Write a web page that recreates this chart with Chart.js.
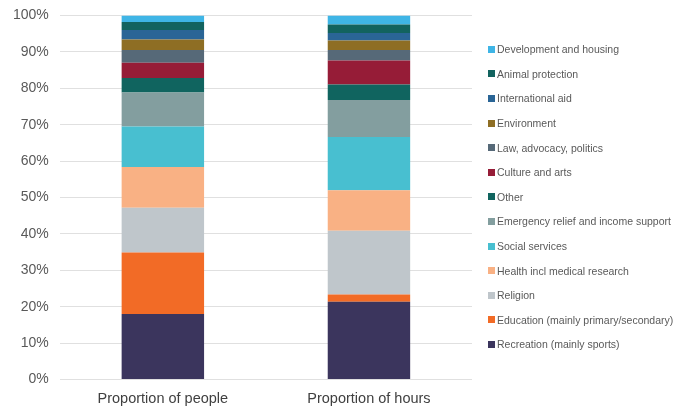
<!DOCTYPE html>
<html>
<head>
<meta charset="utf-8">
<script src="https://cdn.jsdelivr.net/npm/chart.js@4.4.1/dist/chart.umd.min.js"></script>
<style>
  html, body { margin: 0; padding: 0; background: #fff; }
  #wrap { width: 690px; height: 407px; position: relative; overflow: hidden; }
  #plot { position: absolute; left: 0; top: -4px; width: 690px; height: 411px; }
  #legend { position: absolute; left: 488px; top: 37px; font: 10.5px "Liberation Sans", Arial, sans-serif; color: #595959; }
  .item { height: 24.6px; display: flex; align-items: center; white-space: nowrap; }
  .box { width: 7px; height: 7px; margin-right: 2px; flex: none; }
</style>
</head>
<body>
<div id="wrap"><div id="plot"><canvas id="chart"></canvas></div><div id="legend"></div></div>
<script>
const categories = ["Proportion of people", "Proportion of hours"];

// bottom to top in the stack
const seriesNames = [
  "Recreation (mainly sports)",
  "Education (mainly primary/secondary)",
  "Religion",
  "Health incl medical research",
  "Social services",
  "Emergency relief and income support",
  "Other",
  "Culture and arts",
  "Law, advocacy, politics",
  "Environment",
  "International aid",
  "Animal protection",
  "Development and housing",
];

const people = [18.0, 16.9, 12.3, 11.2, 11.1, 9.3, 4.0, 4.2, 3.5, 2.9, 2.6, 2.2, 1.8];
const hours  = [21.4, 2.0, 17.5, 11.1, 14.6, 10.2, 4.2, 6.6, 2.9, 2.6, 2.1, 2.3, 2.5];

const colors = [
  "#3b355d", "#f26b26", "#bfc6cb", "#f9b184", "#48bfd0", "#839e9f",
  "#10645f", "#961c37", "#566978", "#8e6e24", "#2a6596", "#12635f", "#3fb5e6",
];

const yTicks = [0, 10, 20, 30, 40, 50, 60, 70, 80, 90, 100];

const datasets = seriesNames.map((name, i) => ({
  label: name,
  data: [people[i], hours[i]],
  backgroundColor: colors[i],
  borderWidth: 0,
  barPercentage: 0.4,
  categoryPercentage: 1,
}));

// legend, top of stack first
const legend = document.getElementById("legend");
seriesNames.slice().reverse().forEach((name, k) => {
  const i = seriesNames.length - 1 - k;
  const row = document.createElement("div");
  row.className = "item";
  row.innerHTML = `<span class="box" style="background:${colors[i]}"></span><span>${name}</span>`;
  legend.appendChild(row);
});

new Chart(document.getElementById("chart"), {
  type: "bar",
  data: { labels: categories, datasets },
  options: {
    responsive: true,
    maintainAspectRatio: false,
    animation: false,
    layout: { padding: { top: 2, left: 2, right: 218, bottom: -12 } },
    plugins: {
      tooltip: { enabled: false },
      legend: { display: false },
    },
    scales: {
      x: {
        stacked: true,
        grid: { display: false, drawTicks: false },
        border: { display: false },
        ticks: {
          color: "#404040",
          padding: 11,
          font: { family: "Liberation Sans", size: 14.5 },
        },
      },
      y: {
        stacked: true,
        min: 0,
        max: 100,
        afterBuildTicks: axis => { axis.ticks = yTicks.map(v => ({ value: v })); },
        grid: { color: "#e0e0e0", lineWidth: 1, drawTicks: false },
        border: { display: false },
        ticks: {
          color: "#595959",
          padding: 11,
          font: { family: "Liberation Sans", size: 14 },
          callback: v => v + "%",
        },
      },
    },
  },
});
</script>
</body>
</html>
